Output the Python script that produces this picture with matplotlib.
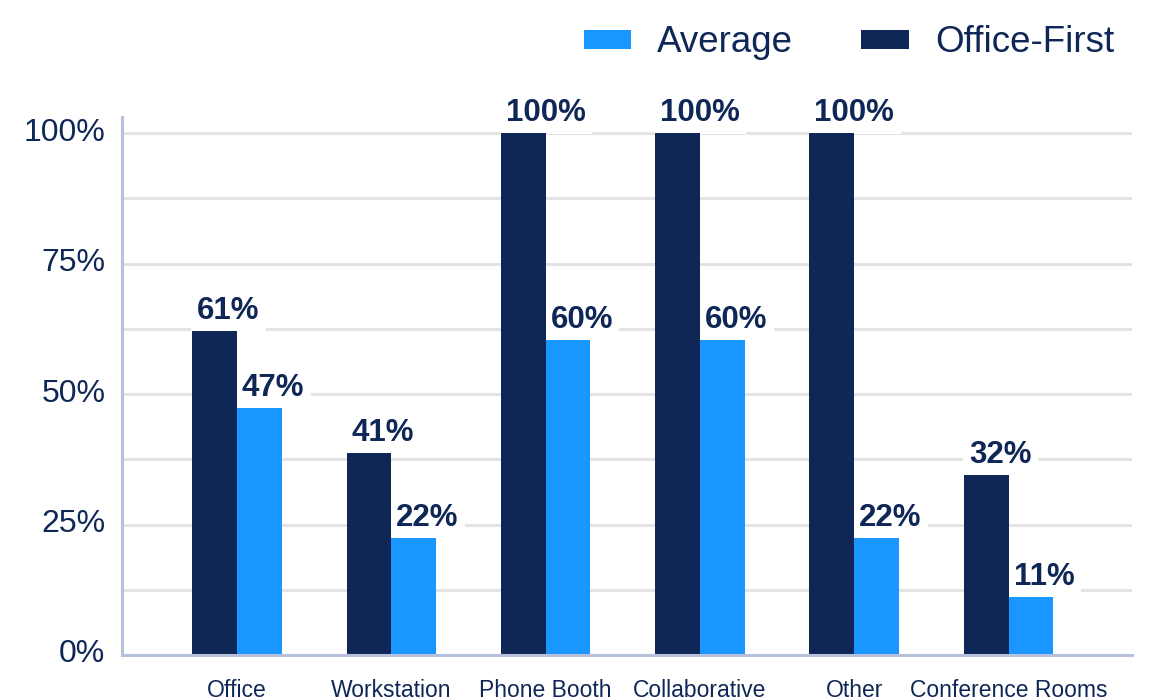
import matplotlib
matplotlib.use("Agg")
import matplotlib.pyplot as plt
import matplotlib.transforms as mtransforms
import numpy as np
from matplotlib.patches import Patch

categories = ["Office", "Workstation", "Phone Booth", "Collaborative", "Other", "Conference Rooms"]
office_first = [62.1, 38.7, 100, 100, 100, 34.5]
average = [47.3, 22.4, 60.3, 60.3, 22.4, 11.2]
office_first_labels = ["61%", "41%", "100%", "100%", "100%", "32%"]
average_labels = ["47%", "22%", "60%", "60%", "22%", "11%"]
yticks = [0, 25, 50, 75, 100]
ytick_labels = ["0%", "25%", "50%", "75%", "100%"]

NAVY = "#0f2756"
BLUE = "#1996ff"
GRID = "#e3e3e3"
SPINE = "#b7c0dc"

plt.rcParams['font.family'] = ['Liberation Sans', 'DejaVu Sans']

fig = plt.figure(figsize=(11.56, 7.0), dpi=100)
ax = fig.add_axes([122/1156, 1-655/700, (1132-122)/1156, (655-117)/700])

x = np.arange(len(categories))
w = 0.29
b1 = ax.bar(x - w/2, office_first, width=w, color=NAVY, zorder=6)
b2 = ax.bar(x + w/2, average, width=w, color=BLUE, zorder=6)

ax.set_xlim(-0.745, 5.80)
ax.set_ylim(0, 103.07)

ax.set_yticks(yticks)
ax.set_yticklabels(ytick_labels)
ax.set_yticks(np.arange(12.5, 100, 25), minor=True)
ax.yaxis.grid(True, which='both', color=GRID, linewidth=2.2, zorder=0)
ax.set_axisbelow(True)
ax.tick_params(axis='y', which='both', length=0, pad=12, labelsize=23, labelcolor=NAVY)
offset = mtransforms.ScaledTranslation(0, 4/100, fig.dpi_scale_trans)
for lbl in ax.get_yticklabels():
    lbl.set_transform(lbl.get_transform() + offset)
ax.set_xticks(x)
ax.set_xticklabels(categories)
ax.tick_params(axis='x', length=0, pad=17, labelsize=16.5, labelcolor=NAVY)

for s in ['top', 'right']:
    ax.spines[s].set_visible(False)
for s in ['left', 'bottom']:
    ax.spines[s].set_color(SPINE)
    ax.spines[s].set_linewidth(2.2)
    ax.spines[s].set_zorder(7)

def label(bars, texts):
    for rect, t in zip(bars, texts):
        ax.annotate(t, xy=(rect.get_x(), rect.get_height()),
                    xytext=(5*0.72, 12*0.72), textcoords='offset points',
                    ha='left', va='baseline', fontsize=22.5, fontweight='bold',
                    color=NAVY, zorder=5,
                    bbox=dict(boxstyle='square,pad=0.2', fc='white', ec='none'))

label(b1, office_first_labels)
label(b2, average_labels)

handles = [Patch(facecolor=BLUE, label="Average"), Patch(facecolor=NAVY, label="Office-First")]
leg = fig.legend(handles=handles, loc='center right', bbox_to_anchor=(1114/1156, 1-43/700),
                 ncol=2, frameon=False, fontsize=26.5, handlelength=1.3, handleheight=0.44,
                 handletextpad=0.7, columnspacing=1.85, borderpad=0, borderaxespad=0)
for t in leg.get_texts():
    t.set_color(NAVY)

fig.savefig("out.png", dpi=100)
